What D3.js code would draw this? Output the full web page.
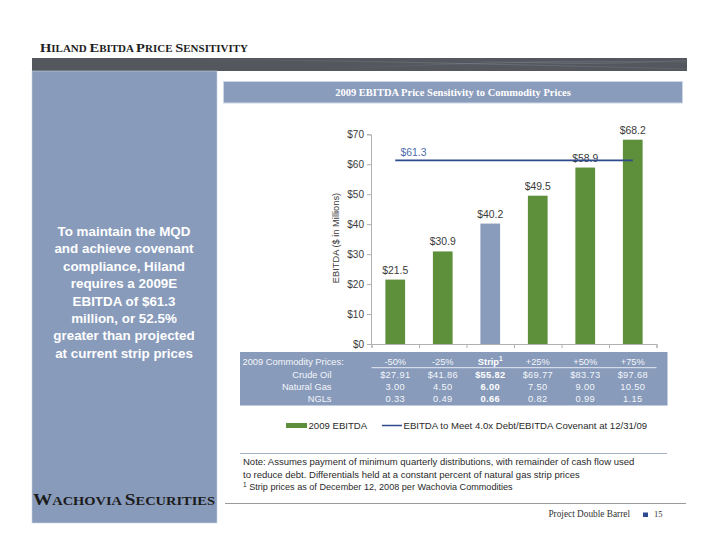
<!DOCTYPE html>
<html><head><meta charset="utf-8">
<script src="https://cdn.jsdelivr.net/npm/d3@7"></script>
<style>
html,body{margin:0;padding:0;background:#fff;}
svg{display:block;}
text{font-family:"Liberation Sans",Arial,sans-serif;}
.serif{font-family:"Liberation Serif","Times New Roman",serif;}
</style></head>
<body>
<svg id="c" width="720" height="556"></svg>
<script>
// ---- data ----
const categories = ["-50%", "-25%", "Strip", "+25%", "+50%", "+75%"];
const ebitda = [21.5, 30.9, 40.2, 49.5, 58.9, 68.2];
const covenantValue = 61.3;
const yTicks = [0, 10, 20, 30, 40, 50, 60, 70];
const crudeOil = ["$27.91", "$41.86", "$55.82", "$69.77", "$83.73", "$97.68"];
const naturalGas = ["3.00", "4.50", "6.00", "7.50", "9.00", "10.50"];
const ngls = ["0.33", "0.49", "0.66", "0.82", "0.99", "1.15"];
const rowLabels = ["Crude Oil", "Natural Gas", "NGLs"];
const legendLabels = ["2009 EBITDA", "EBITDA to Meet 4.0x Debt/EBITDA Covenant at 12/31/09"];
const sideText = ["To maintain the MQD", "and achieve covenant", "compliance, Hiland", "requires a 2009E",
  "EBITDA of $61.3", "million, or 52.5%", "greater than projected", "at current strip prices"];

const svg = d3.select("#c");
const panelBlue = "#889bbb";
const green = "#5e8f3b";
const stripBlue = "#8a9cbc";
const lineBlue = "#2e4a8f";
const txt = "#3a3a3a";

// ---- page furniture ----
function smallCaps(sel, str, big, small) {
  str.split(" ").forEach((w, i) => {
    if (i > 0) sel.append("tspan").attr("font-size", small).text(" ");
    sel.append("tspan").attr("font-size", big).text(w[0]);
    sel.append("tspan").attr("font-size", small).text(w.slice(1).toUpperCase());
  });
}
const title = svg.append("text").attr("class", "serif").attr("x", 40).attr("y", 51.5)
  .attr("font-weight", "bold").attr("fill", "#1e1e1e")
  .attr("textLength", 208).attr("lengthAdjust", "spacingAndGlyphs");
smallCaps(title, "Hiland EBITDA Price Sensitivity", 13.5, 10.2);

// dark band
const defs = svg.append("defs");
svg.append("rect").attr("x", 32).attr("y", 58).attr("width", 655).attr("height", 13).attr("fill", "#54575d");
const sw = defs.append("linearGradient").attr("id", "sw").attr("x1", 0).attr("x2", 1);
sw.append("stop").attr("offset", 0).attr("stop-color", "#8a93a0").attr("stop-opacity", 0);
sw.append("stop").attr("offset", 0.6).attr("stop-color", "#9aa4b2").attr("stop-opacity", 0.45);
sw.append("stop").attr("offset", 1).attr("stop-color", "#8a93a0").attr("stop-opacity", 0.25);
const swooshes = [
  "M160,59 C300,60 420,62 687,69",
  "M320,70 C430,64 540,60 687,62",
  "M430,59 C520,63 600,66 687,60"
];
svg.selectAll("path.sw").data(swooshes).enter().append("path").attr("class", "sw")
  .attr("d", d => d).attr("fill", "none").attr("stroke", "url(#sw)").attr("stroke-width", 0.7);

// left panel
svg.append("rect").attr("x", 32).attr("y", 71).attr("width", 185).attr("height", 452)
  .attr("fill", panelBlue).attr("stroke", "#c9d3e2").attr("stroke-width", 0.6);
svg.append("g").selectAll("text").data(sideText).enter().append("text")
  .attr("x", 124).attr("y", (d, i) => 236 + i * 17.4).attr("text-anchor", "middle")
  .attr("fill", "#ffffff").attr("font-weight", "bold").attr("font-size", 13.4).text(d => d);

// Logo
const logo = svg.append("text").attr("class", "serif").attr("x", 33).attr("y", 505)
  .attr("font-weight", "bold").attr("fill", "#1c1c1c")
  .attr("textLength", 182).attr("lengthAdjust", "spacingAndGlyphs");
smallCaps(logo, "Wachovia Securities", 16, 12);

// chart title band
svg.append("rect").attr("x", 223.5).attr("y", 81.5).attr("width", 459).attr("height", 21.5)
  .attr("fill", stripBlue).attr("stroke", "#cdd6e4").attr("stroke-width", 1);
svg.append("text").attr("class", "serif").attr("x", 453).attr("y", 96).attr("text-anchor", "middle")
  .attr("fill", "#ffffff").attr("font-weight", "bold").attr("font-size", 10.5)
  .text("2009 EBITDA Price Sensitivity to Commodity Prices");

// ---- chart ----
const x = d3.scaleBand().domain(categories).range([371.5, 656.5]).paddingInner(0.585).paddingOuter(0.2925);
const xEdge = d3.scaleLinear().domain([0, categories.length]).range([371.5, 656.5]);
const y = d3.scaleLinear().domain([0, 70]).range([344, 134.3]);

const yAxis = svg.append("g").attr("transform", "translate(371,0)")
  .call(d3.axisLeft(y).tickValues(yTicks).tickSize(4).tickPadding(3).tickFormat(d => "$" + d));
yAxis.select(".domain").attr("stroke", "#b0b0b0");
yAxis.selectAll(".tick line").attr("stroke", "#b0b0b0");
yAxis.selectAll(".tick text").attr("fill", txt).attr("font-size", 10).attr("font-family", "Liberation Sans, Arial, sans-serif");

const xAxis = svg.append("g").attr("transform", "translate(0,344)")
  .call(d3.axisBottom(xEdge).tickValues(d3.range(categories.length + 1)).tickSize(4).tickFormat(""));
xAxis.select(".domain").attr("stroke", "#b0b0b0");
xAxis.selectAll(".tick line").attr("stroke", "#b0b0b0");

svg.append("text").attr("transform", "translate(339,238) rotate(-90)").attr("text-anchor", "middle")
  .attr("fill", txt).attr("font-size", 9.3).text("EBITDA ($ in Millions)");

svg.append("g").selectAll("rect").data(ebitda).enter().append("rect")
  .attr("x", (d, i) => x(categories[i])).attr("width", x.bandwidth())
  .attr("y", d => y(d)).attr("height", d => y(0) - y(d))
  .attr("fill", (d, i) => categories[i] === "Strip" ? stripBlue : green);

svg.append("g").selectAll("text").data(ebitda).enter().append("text")
  .attr("x", (d, i) => x(categories[i]) + x.bandwidth() / 2).attr("y", d => y(d) - 6)
  .attr("text-anchor", "middle").attr("fill", txt).attr("font-size", 10.4)
  .text(d => "$" + d.toFixed(1));

// covenant line
const cx0 = x(categories[0]) + x.bandwidth() / 2;
const cx1 = x(categories[categories.length - 1]) + x.bandwidth() / 2;
svg.append("line").attr("x1", cx0).attr("x2", cx1).attr("y1", y(covenantValue)).attr("y2", y(covenantValue))
  .attr("stroke", lineBlue).attr("stroke-width", 1.8);
svg.append("text").attr("x", 400.5).attr("y", y(covenantValue) - 4.5).attr("fill", "#4d6cab")
  .attr("font-size", 10.4).text("$" + covenantValue.toFixed(1));

// ---- table ----
svg.append("rect").attr("x", 240).attr("y", 352).attr("width", 427.5).attr("height", 53.5).attr("fill", panelBlue);
svg.append("line").attr("x1", 371.5).attr("x2", 656.5).attr("y1", 367.7).attr("y2", 367.7)
  .attr("stroke", "#f2f4f8").attr("stroke-width", 0.9);
const tf = 9.3, tcol = "#f4f6fa";
svg.append("text").attr("x", 242.5).attr("y", 364.5).attr("fill", tcol).attr("font-size", tf).text("2009 Commodity Prices:");
const hdr = svg.append("g").selectAll("text").data(categories).enter().append("text")
  .attr("x", d => x(d) + x.bandwidth() / 2).attr("y", 364.5).attr("text-anchor", "middle")
  .attr("fill", d => d === "Strip" ? "#ffffff" : tcol).attr("font-size", tf)
  .attr("font-weight", d => d === "Strip" ? "bold" : "normal");
hdr.append("tspan").text(d => d);
hdr.filter(d => d === "Strip").append("tspan").attr("font-size", 6.5).attr("dy", -3.5).text("1");

const rows = [crudeOil, naturalGas, ngls];
const rowY = [377.6, 389.8, 401.6];
rows.forEach((vals, r) => {
  svg.append("text").attr("x", 331.5).attr("y", rowY[r]).attr("text-anchor", "end")
    .attr("fill", tcol).attr("font-size", tf).text(rowLabels[r]);
  svg.append("g").selectAll("text").data(vals).enter().append("text")
    .attr("x", (d, i) => x(categories[i]) + x.bandwidth() / 2).attr("y", rowY[r]).attr("text-anchor", "middle")
    .attr("fill", (d, i) => categories[i] === "Strip" ? "#ffffff" : tcol)
    .attr("font-weight", (d, i) => categories[i] === "Strip" ? "bold" : "normal")
    .attr("font-size", tf).attr("letter-spacing", 0.3).text(d => d);
});

// ---- legend ----
svg.append("rect").attr("x", 286).attr("y", 423).attr("width", 21).attr("height", 5).attr("fill", green);
svg.append("text").attr("x", 308.5).attr("y", 429).attr("fill", "#2a2a2a").attr("font-size", 9.6).text(legendLabels[0]);
svg.append("line").attr("x1", 382).attr("x2", 402).attr("y1", 425.5).attr("y2", 425.5).attr("stroke", lineBlue).attr("stroke-width", 1.5);
svg.append("text").attr("x", 403.5).attr("y", 429).attr("fill", "#2a2a2a").attr("font-size", 9.6).text(legendLabels[1]);

// ---- note ----
svg.append("line").attr("x1", 240).attr("x2", 667).attr("y1", 453.5).attr("y2", 453.5).attr("stroke", "#a7b3c8").attr("stroke-width", 1);
const nf = 9.5;
svg.append("text").attr("x", 243).attr("y", 465).attr("fill", "#2a2a2a").attr("font-size", nf)
  .text("Note: Assumes payment of minimum quarterly distributions, with remainder of cash flow used");
svg.append("text").attr("x", 243).attr("y", 477.5).attr("fill", "#2a2a2a").attr("font-size", nf)
  .text("to reduce debt. Differentials held at a constant percent of natural gas strip prices");
const n3 = svg.append("text").attr("x", 243).attr("y", 490).attr("fill", "#2a2a2a").attr("font-size", 9.1);
n3.append("tspan").attr("font-size", 6.5).attr("dy", -3).text("1");
n3.append("tspan").attr("dy", 3).text(" Strip prices as of December 12, 2008 per Wachovia Commodities");
svg.append("line").attr("x1", 225).attr("x2", 686).attr("y1", 503.5).attr("y2", 503.5).attr("stroke", "#9a9a9a").attr("stroke-width", 1);

// ---- footer ----
svg.append("text").attr("class", "serif").attr("x", 630).attr("y", 517).attr("text-anchor", "end")
  .attr("fill", "#333").attr("font-size", 9.3).text("Project Double Barrel");
svg.append("rect").attr("x", 643).attr("y", 512.5).attr("width", 5).attr("height", 4.5).attr("fill", "#2e4a8f");
svg.append("text").attr("class", "serif").attr("x", 654).attr("y", 517)
  .attr("fill", "#333").attr("font-size", 8.5).text("15");
</script>
</body></html>
